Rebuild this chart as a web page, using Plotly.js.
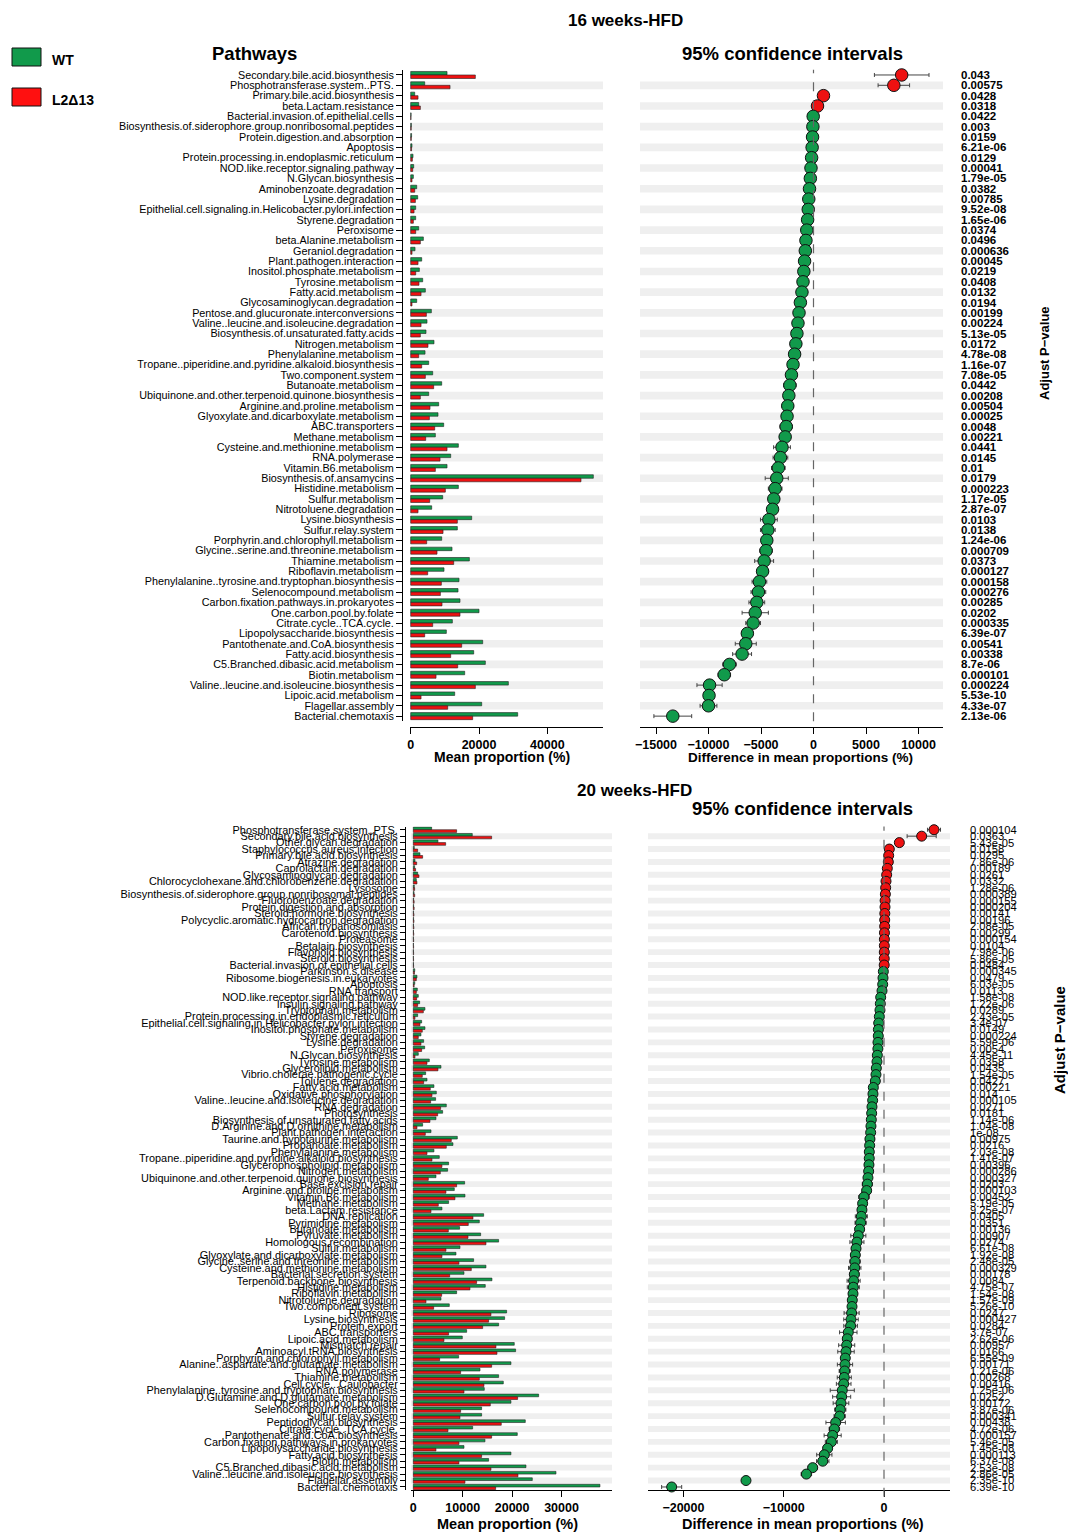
<!DOCTYPE html>
<html><head><meta charset="utf-8">
<script src="https://cdn.plot.ly/plotly-3.0.1.min.js"></script>
<style>body{margin:0;background:#fff}#chart{width:1068px;height:1535px}</style>
</head><body><div id="chart"></div>
<script>
// ---------- 16 weeks-HFD ----------
const topPathways = ["Secondary.bile.acid.biosynthesis","Phosphotransferase.system..PTS.","Primary.bile.acid.biosynthesis","beta.Lactam.resistance","Bacterial.invasion.of.epithelial.cells","Biosynthesis.of.siderophore.group.nonribosomal.peptides","Protein.digestion.and.absorption","Apoptosis","Protein.processing.in.endoplasmic.reticulum","NOD.like.receptor.signaling.pathway","N.Glycan.biosynthesis","Aminobenzoate.degradation","Lysine.degradation","Epithelial.cell.signaling.in.Helicobacter.pylori.infection","Styrene.degradation","Peroxisome","beta.Alanine.metabolism","Geraniol.degradation","Plant.pathogen.interaction","Inositol.phosphate.metabolism","Tyrosine.metabolism","Fatty.acid.metabolism","Glycosaminoglycan.degradation","Pentose.and.glucuronate.interconversions","Valine..leucine.and.isoleucine.degradation","Biosynthesis.of.unsaturated.fatty.acids","Nitrogen.metabolism","Phenylalanine.metabolism","Tropane..piperidine.and.pyridine.alkaloid.biosynthesis","Two.component.system","Butanoate.metabolism","Ubiquinone.and.other.terpenoid.quinone.biosynthesis","Arginine.and.proline.metabolism","Glyoxylate.and.dicarboxylate.metabolism","ABC.transporters","Methane.metabolism","Cysteine.and.methionine.metabolism","RNA.polymerase","Vitamin.B6.metabolism","Biosynthesis.of.ansamycins","Histidine.metabolism","Sulfur.metabolism","Nitrotoluene.degradation","Lysine.biosynthesis","Sulfur.relay.system","Porphyrin.and.chlorophyll.metabolism","Glycine..serine.and.threonine.metabolism","Thiamine.metabolism","Riboflavin.metabolism","Phenylalanine..tyrosine.and.tryptophan.biosynthesis","Selenocompound.metabolism","Carbon.fixation.pathways.in.prokaryotes","One.carbon.pool.by.folate","Citrate.cycle..TCA.cycle.","Lipopolysaccharide.biosynthesis","Pantothenate.and.CoA.biosynthesis","Fatty.acid.biosynthesis","C5.Branched.dibasic.acid.metabolism","Biotin.metabolism","Valine..leucine.and.isoleucine.biosynthesis","Lipoic.acid.metabolism","Flagellar.assembly","Bacterial.chemotaxis"];
const topWT = [10640,4100,1170,2340,120,200,260,380,680,880,780,1760,2050,1460,1460,2340,3710,1270,3220,2540,3510,4290,1760,6050,4780,4490,6830,4200,5270,6440,9080,5270,8200,8000,9660,7220,13960,11710,10640,53480,13960,9370,6150,17860,13660,9080,12100,17180,9760,14150,13860,14440,20010,12200,10440,21080,18450,21860,15810,28600,12880,20790,31330];
const topL2 = [18930,11520,2150,2830,90,150,180,250,490,590,390,1170,1370,980,780,1460,2830,390,2150,1460,2440,3030,390,4590,3030,2830,5070,2340,3220,4290,6730,2830,5660,5470,7030,4390,10640,8590,7220,49870,10150,5560,2150,13660,9470,4680,7710,12590,4980,8980,8690,9170,14440,6440,4100,14930,11710,13760,7420,18930,3030,10830,18150];
const topDiff = [8400,7650,950,380,-30,-60,-90,-130,-180,-240,-300,-380,-450,-500,-560,-640,-720,-780,-850,-920,-1000,-1100,-1250,-1380,-1480,-1580,-1680,-1800,-1950,-2100,-2250,-2350,-2450,-2520,-2600,-2700,-3000,-3150,-3350,-3500,-3650,-3780,-3900,-4250,-4350,-4450,-4520,-4700,-4850,-5150,-5250,-5400,-5550,-5750,-6300,-6450,-6800,-8000,-8500,-9900,-9950,-10000,-13400];
const topCI = [2600,1500,250,200,80,80,90,100,120,130,120,180,200,170,160,220,280,150,250,220,300,330,250,400,380,350,500,350,420,480,600,450,550,500,600,480,800,700,650,1100,650,500,380,800,700,500,600,900,550,700,700,750,1250,700,550,1000,900,650,600,1200,450,800,1800];
const topP = ["0.043","0.00575","0.0428","0.0318","0.0422","0.003","0.0159","6.21e-06","0.0129","0.00041","1.79e-05","0.0382","0.00785","9.52e-08","1.65e-06","0.0374","0.0496","0.000636","0.00045","0.0219","0.0408","0.0132","0.0194","0.00199","0.00224","5.13e-05","0.0172","4.78e-08","1.16e-07","7.08e-05","0.0442","0.00208","0.00504","0.00025","0.0048","0.00221","0.0441","0.0145","0.01","0.0179","0.000223","1.17e-05","2.87e-07","0.0103","0.0138","1.24e-06","0.000709","0.0373","0.000127","0.000158","0.000276","0.00285","0.0202","0.000335","6.39e-07","0.00541","0.00338","8.7e-06","0.000101","0.000224","5.53e-10","4.33e-07","2.13e-06"];
const topBarTicks = [0,20000,40000];
const topCITicks = [-15000,-10000,-5000,0,5000,10000];

// ---------- 20 weeks-HFD ----------
const botPathways = ["Phosphotransferase.system..PTS.","Secondary.bile.acid.biosynthesis","Other.glycan.degradation","Staphylococcus.aureus.infection","Primary.bile.acid.biosynthesis","Atrazine.degradation","Caprolactam.degradation","Glycosaminoglycan.degradation","Chlorocyclohexane.and.chlorobenzene.degradation","Lysosome","Biosynthesis.of.siderophore.group.nonribosomal.peptides","Fluorobenzoate.degradation","Protein.digestion.and.absorption","Steroid.hormone.biosynthesis","Polycyclic.aromatic.hydrocarbon.degradation","African.trypanosomiasis","Carotenoid.biosynthesis","Proteasome","Betalain.biosynthesis","Flavonoid.biosynthesis","Steroid.biosynthesis","Bacterial.invasion.of.epithelial.cells","Parkinson.s.disease","Ribosome.biogenesis.in.eukaryotes","Apoptosis","RNA.transport","NOD.like.receptor.signaling.pathway","Insulin.signaling.pathway","Tryptophan.metabolism","Protein.processing.in.endoplasmic.reticulum","Epithelial.cell.signaling.in.Helicobacter.pylori.infection","Inositol.phosphate.metabolism","Styrene.degradation","Lysine.degradation","Peroxisome","N.Glycan.biosynthesis","Tyrosine.metabolism","Glycerolipid.metabolism","Vibrio.cholerae.pathogenic.cycle","Toluene.degradation","Fatty.acid.metabolism","Oxidative.phosphorylation","Valine..leucine.and.isoleucine.degradation","RNA.degradation","Photosynthesis","Biosynthesis.of.unsaturated.fatty.acids","D.Arginine.and.D.ornithine.metabolism","Plant.pathogen.interaction","Taurine.and.hypotaurine.metabolism","Propanoate.metabolism","Phenylalanine.metabolism","Tropane..piperidine.and.pyridine.alkaloid.biosynthesis","Glycerophospholipid.metabolism","Nitrogen.metabolism","Ubiquinone.and.other.terpenoid.quinone.biosynthesis","Base.excision.repair","Arginine.and.proline.metabolism","Vitamin.B6.metabolism","Methane.metabolism","beta.Lactam.resistance","DNA.replication","Pyrimidine.metabolism","Butanoate.metabolism","Pyruvate.metabolism","Homologous.recombination","Sulfur.metabolism","Glyoxylate.and.dicarboxylate.metabolism","Glycine..serine.and.threonine.metabolism","Cysteine.and.methionine.metabolism","Bacterial.secretion.system","Terpenoid.backbone.biosynthesis","Histidine.metabolism","Riboflavin.metabolism","Nitrotoluene.degradation","Two.component.system","Ribosome","Lysine.biosynthesis","Protein.export","ABC.transporters","Lipoic.acid.metabolism","Mismatch.repair","Aminoacyl.tRNA.biosynthesis","Porphyrin.and.chlorophyll.metabolism","Alanine..aspartate.and.glutamate.metabolism","RNA.polymerase","Thiamine.metabolism","Cell.cycle...Caulobacter","Phenylalanine..tyrosine.and.tryptophan.biosynthesis","D.Glutamine.and.D.glutamate.metabolism","One.carbon.pool.by.folate","Selenocompound.metabolism","Sulfur.relay.system","Peptidoglycan.biosynthesis","Citrate.cycle..TCA.cycle.","Pantothenate.and.CoA.biosynthesis","Carbon.fixation.pathways.in.prokaryotes","Lipopolysaccharide.biosynthesis","Fatty.acid.biosynthesis","Biotin.metabolism","C5.Branched.dibasic.acid.metabolism","Valine..leucine.and.isoleucine.biosynthesis","Flagellar.assembly","Bacterial.chemotaxis"];
const botWT = [3710,11940,4990,200,1350,340,270,880,610,200,150,60,70,50,60,40,40,30,30,30,30,40,300,740,300,810,1010,1280,2360,880,1690,2360,1550,2090,2300,1010,3240,5600,2500,2770,4180,4660,4520,6680,5940,4590,1890,3580,8910,8030,4180,5260,7150,6950,4590,10390,8300,10460,7150,5800,14240,13360,9380,13630,17270,9450,8640,12210,14710,10260,15920,14570,8770,5600,7290,18890,18490,17270,10800,9920,20440,20710,9180,19770,13500,17270,18220,14370,25370,19770,13830,13830,22670,12010,21050,14510,10260,19770,15250,22810,28880,24090,37780];
const botL2 = [8770,15860,6550,880,1890,680,470,1150,740,270,280,170,170,130,130,110,90,70,65,60,55,60,240,610,170,610,680,880,2030,340,1350,1820,1010,1550,1690,340,2770,4990,1820,2090,3440,3780,3510,5530,4930,3370,740,2430,7690,6680,2770,3780,5800,5470,3040,8770,6610,8430,5060,3580,12080,11130,7090,11070,14710,6610,5800,9240,11740,7360,12820,11470,5740,2570,4120,15720,15250,14040,7150,6210,16730,16940,5330,15860,9580,13360,14300,10260,21120,15590,9580,9450,17810,7020,15860,9240,4590,13830,9240,15720,21190,10460,16670];
const botDiff = [4985,3755,1530,530,465,430,330,265,200,165,135,110,100,80,70,65,45,40,35,30,25,20,-65,-100,-130,-200,-330,-365,-400,-465,-530,-560,-570,-600,-610,-665,-700,-765,-800,-865,-1065,-1100,-1130,-1200,-1230,-1265,-1300,-1330,-1400,-1430,-1465,-1470,-1500,-1530,-1600,-1660,-1730,-2000,-2130,-2200,-2260,-2330,-2430,-2560,-2700,-2790,-2860,-2890,-2920,-2960,-3030,-3060,-3090,-3160,-3190,-3230,-3290,-3330,-3560,-3660,-3720,-3790,-3860,-3890,-3920,-3960,-4020,-4160,-4220,-4290,-4360,-4420,-4820,-4950,-5120,-5250,-5620,-5950,-6110,-7110,-7740,-13760,-21170];
const botCI = [650,1450,150,80,90,70,60,70,60,40,40,30,30,25,25,20,20,15,15,15,15,15,60,90,70,110,130,150,180,140,170,200,160,190,200,150,240,320,210,230,300,320,310,380,360,300,200,280,450,420,300,350,420,400,320,500,450,520,420,380,600,560,450,750,700,450,420,520,620,480,650,600,420,300,380,750,720,680,870,450,800,820,400,760,550,700,730,1200,900,780,560,560,970,520,850,600,450,760,620,480,520,350,1000];
const botP = ["0.000104","0.0363","5.43e-05","0.0158","0.0295","7.86e-06","0.00189","0.0261","0.0332","1.28e-06","0.000389","0.000155","0.000204","0.00141","0.00196","2.08e-05","0.00299","0.000154","0.0104","7.98e-06","5.86e-05","0.0484","0.000345","0.0479","6.03e-05","0.0113","1.58e-08","1.22e-06","0.0289","2.43e-05","3.4e-07","0.0149","0.000224","5.59e-06","0.0054","4.45e-11","0.0358","0.0435","1.54e-05","0.0427","0.00221","0.014","0.000105","0.0271","0.0181","1.14e-06","1.04e-08","1e-08","0.00975","0.0216","2.03e-08","1.41e-07","0.00396","0.000286","0.000327","0.0203","0.000103","0.00452","5.19e-05","9.25e-07","0.0405","0.0351","0.00136","0.00907","0.0274","6.61e-08","1.92e-08","2.48e-05","0.000329","0.00178","0.0084","4.75e-07","1.54e-08","1.57e-09","5.26e-10","0.0247","0.000427","0.0284","3.7e-07","2.62e-06","0.00957","0.0166","6.55e-09","0.00171","1.21e-06","0.00268","0.00416","1.25e-06","0.0252","0.00172","3.87e-06","0.000341","0.00438","4.72e-06","0.000157","5.46e-05","1.45e-08","0.000113","6.37e-08","2.53e-08","2.86e-05","2.35e-10","6.39e-10"];
const botBarTicks = [0,10000,20000,30000];
const botCITicks = [-20000,-10000,0];

// ---------- styling ----------
const W = 1068, H = 1535;
const fx = p => p / W, fy = p => 1 - p / H;
const FONT = "Liberation Sans, Arial, sans-serif";
const GREEN = "#119a4b", RED = "#ee1111", STRIPE = "#efefef";
const lab = v => (v < 0 ? "\u2212" : "") + Math.abs(v);

function barTraces(cats, wt, l2, xa, ya, half) {
  return [
    {type:"bar", orientation:"h", x:wt, y:cats, xaxis:xa, yaxis:ya, offset:-half, width:half,
     marker:{color:GREEN, line:{color:"#222", width:0.6}}, hoverinfo:"skip"},
    {type:"bar", orientation:"h", x:l2, y:cats, xaxis:xa, yaxis:ya, offset:0, width:half,
     marker:{color:RED, line:{color:"#222", width:0.6}}, hoverinfo:"skip"}
  ];
}
function ciTrace(cats, diff, ci, xa, ya, size) {
  return {type:"scatter", mode:"markers", x:diff, y:cats, xaxis:xa, yaxis:ya,
    error_x:{type:"data", array:ci, color:"#444", thickness:1, width:2},
    marker:{size:size, color:diff.map(d => d > 0 ? RED : GREEN), line:{color:"#111", width:1}},
    hoverinfo:"skip", cliponaxis:false};
}

const data = [
  ...barTraces(topPathways, topWT, topL2, "x", "y", 0.34),
  ciTrace(topPathways, topDiff, topCI, "x2", "y2", 12.5),
  ...barTraces(botPathways, botWT, botL2, "x3", "y3", 0.42),
  ciTrace(botPathways, botDiff, botCI, "x4", "y4", 10)
];

const shapes = [];
function stripes(n, xd, ya, h) {
  for (let i = 1; i < n; i += 2) {
    shapes.push({type:"rect", layer:"below", xref:xd, yref:ya, x0:0, x1:1, y0:i - h, y1:i + h,
      fillcolor:STRIPE, line:{width:0}});
  }
}
stripes(topPathways.length, "x domain", "y", 0.37);
stripes(topPathways.length, "x2 domain", "y2", 0.37);
stripes(botPathways.length, "x3 domain", "y3", 0.46);
stripes(botPathways.length, "x4 domain", "y4", 0.46);
shapes.push({type:"line", xref:"x2", yref:"y2 domain", x0:0, x1:0, y0:0, y1:1, line:{color:"#666", width:1.2, dash:"dash"}});
shapes.push({type:"line", xref:"x4", yref:"y4 domain", x0:0, x1:0, y0:-0.01, y1:1, line:{color:"#666", width:1.2, dash:"dash"}});
// legend boxes
shapes.push({type:"rect", xref:"paper", yref:"paper", x0:fx(12), x1:fx(41), y0:fy(66), y1:fy(48), fillcolor:GREEN, line:{color:"#111", width:1}});
shapes.push({type:"rect", xref:"paper", yref:"paper", x0:fx(12), x1:fx(41), y0:fy(106), y1:fy(88), fillcolor:"#ff1010", line:{color:"#111", width:1}});

const tickBold = {family:FONT, size:12.5, color:"#000", weight:"bold"};
const baseX = {showgrid:false, zeroline:false, showline:true, linecolor:"#000", linewidth:1,
  ticks:"outside", ticklen:6, tickcolor:"#000", tickfont:tickBold, automargin:false, fixedrange:true};
const baseY = {type:"category", categoryorder:"array", showgrid:false, zeroline:false, automargin:false, fixedrange:true, tickmode:"array"};

const topDom = [fy(721.3), fy(69.8)];
const botDom = [fy(1490.2), fy(826.5)];

const layout = {
  width:W, height:H, margin:{l:0, r:0, t:0, b:0}, paper_bgcolor:"#fff", plot_bgcolor:"#fff",
  showlegend:false, barmode:"overlay", font:{family:FONT, color:"#000"},
  xaxis:{...baseX, domain:[fx(410), fx(603)], range:[-205, 56310], tickvals:topBarTicks, ticktext:topBarTicks.map(lab), anchor:"free", position:fy(727)},
  yaxis:{...baseY, domain:topDom, categoryarray:topPathways, range:[topPathways.length - 0.5, -0.5],
    tickvals:topPathways, ticktext:topPathways, ticks:"outside", ticklen:6, tickcolor:"#000",
    showline:true, linecolor:"#000", anchor:"free", position:fx(402), tickfont:{family:FONT, size:10.8, color:"#000"}},
  xaxis2:{...baseX, domain:[fx(640), fx(943)], range:[-16524, 12333], tickvals:topCITicks, ticktext:topCITicks.map(lab), anchor:"free", position:fy(727)},
  yaxis2:{...baseY, domain:topDom, categoryarray:topPathways, range:[topPathways.length - 0.5, -0.5],
    tickvals:topPathways, ticktext:topP, ticks:"", showline:false, side:"right", anchor:"free", position:fx(960),
    tickfont:{family:FONT, size:11.5, color:"#000", weight:"bold"}},
  xaxis3:{...baseX, domain:[fx(411), fx(612)], range:[-466, 40223], tickvals:botBarTicks, ticktext:botBarTicks.map(lab), anchor:"y3"},
  yaxis3:{...baseY, domain:botDom, categoryarray:botPathways, range:[botPathways.length - 0.5, -0.5],
    tickvals:botPathways, ticktext:botPathways, ticks:"outside", ticklen:5, tickcolor:"#000",
    showline:true, linecolor:"#000", anchor:"free", position:fx(405), tickfont:{family:FONT, size:10.9, color:"#000"}},
  xaxis4:{...baseX, domain:[fx(648), fx(950)], range:[-23530, 6580], tickvals:botCITicks, ticktext:botCITicks.map(lab), anchor:"y4"},
  yaxis4:{...baseY, domain:botDom, categoryarray:botPathways, range:[botPathways.length - 0.5, -0.5],
    tickvals:botPathways, ticktext:botP, ticks:"", showline:false, side:"right", anchor:"free", position:fx(969),
    tickfont:{family:FONT, size:11.2, color:"#000"}},
  shapes:shapes,
  annotations:[
    {text:"16 weeks-HFD", x:fx(625), y:fy(20), size:17},
    {text:"Pathways", x:fx(254.5), y:fy(53), size:18.5},
    {text:"95% confidence intervals", x:fx(792), y:fy(53), size:18.5},
    {text:"WT", x:fx(50), y:fy(60), size:14, xanchor:"left"},
    {text:"L2\u039413", x:fx(50), y:fy(100), size:14, xanchor:"left"},
    {text:"Mean proportion (%)", x:fx(502), y:fy(757), size:14},
    {text:"Difference in mean proportions (%)", x:fx(800), y:fy(757), size:13.5},
    {text:"Adjust P\u2212value", x:fx(1044), y:fy(353), size:13, angle:-90},
    {text:"20 weeks-HFD", x:fx(634), y:fy(790), size:17},
    {text:"95% confidence intervals", x:fx(802), y:fy(808), size:18.5},
    {text:"Mean proportion (%)", x:fx(507), y:fy(1524), size:14.5},
    {text:"Difference in mean proportions (%)", x:fx(803), y:fy(1524), size:14.5},
    {text:"Adjust P\u2212value", x:fx(1059), y:fy(1040), size:15, angle:-90}
  ].map(a => ({text:a.text, x:a.x, y:a.y, xref:"paper", yref:"paper", showarrow:false,
    xanchor:a.xanchor || "center", yanchor:"middle", textangle:a.angle || 0,
    font:{family:FONT, size:a.size, color:"#000", weight:"bold"}}))
};

Plotly.newPlot("chart", data, layout, {displayModeBar:false, staticPlot:true});
</script>
</body></html>
